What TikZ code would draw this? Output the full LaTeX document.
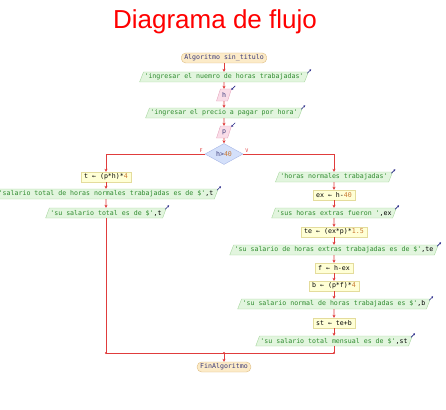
\documentclass[tikz,border=0pt]{standalone}
\usepackage{fontspec}
\setmainfont{Liberation Sans}
\setmonofont{DejaVu Sans Mono}
\usepackage{xcolor}
\usetikzlibrary{arrows.meta, positioning, shapes.geometric, calc}
\definecolor{linea}{HTML}{E03C3C}
\definecolor{termfondo}{HTML}{FCEBC8}
\definecolor{termborde}{HTML}{DDBB80}
\definecolor{termtexto}{HTML}{3A3A7A}
\definecolor{salfondo}{HTML}{E2F5DE}
\definecolor{salborde}{HTML}{A6D69E}
\definecolor{cadena}{HTML}{2E8B2E}
\definecolor{asigfondo}{HTML}{FFFFD6}
\definecolor{asigborde}{HTML}{E4DC9C}
\definecolor{entfondo}{HTML}{FADDE8}
\definecolor{entborde}{HTML}{E6A6BE}
\definecolor{decfondo}{HTML}{D4E0FA}
\definecolor{decborde}{HTML}{A6B6E6}
\definecolor{numero}{HTML}{C87832}
\definecolor{icono}{HTML}{2A2A8A}
\newcommand{\flujofont}{\ttfamily\fontsize{6.6}{7.5}\selectfont}
\newcommand{\strg}[1]{\textcolor{cadena}{#1}}
\newcommand{\nmbr}[1]{\textcolor{numero}{#1}}
\tikzset{
  term/.style   ={rectangle, draw=termborde, fill=termfondo, rounded corners=4.5pt,
                  minimum height=10, inner xsep=3, inner ysep=1, text=termtexto,
                  font=\flujofont},
  salida/.style ={trapezium, trapezium left angle=65, trapezium right angle=115,
                  trapezium stretches=true, draw=salborde, fill=salfondo,
                  minimum height=10, inner xsep=1, inner ysep=1, font=\flujofont},
  entrada/.style={trapezium, trapezium left angle=65, trapezium right angle=115,
                  trapezium stretches=true, draw=entborde, fill=entfondo,
                  minimum height=12, minimum width=15, inner xsep=1, inner ysep=1,
                  text=termtexto, font=\flujofont},
  asig/.style   ={rectangle, draw=asigborde, fill=asigfondo, minimum height=10,
                  inner xsep=3, inner ysep=1, font=\flujofont},
  decision/.style={diamond, draw=decborde, fill=decfondo, minimum width=38,
                  minimum height=18, inner sep=0, text=termtexto, font=\flujofont},
  flujo/.style  ={-{Stealth[length=3pt, width=3pt]}, linea, line width=0.6pt},
  union/.style  ={linea, line width=0.6pt},
  etiq/.style   ={font=\ttfamily\fontsize{5}{6}\selectfont, text=linea, inner sep=1pt},
  icon/.style   ={-{Stealth[length=2pt, width=2.2pt]}, icono, line width=0.6pt}
}
\begin{document}
\begin{tikzpicture}[x=1pt, y=-1pt]
\useasboundingbox (0,0) rectangle (446,409);
% Title
\node[font=\fontsize{26}{30}\selectfont, text=red] (titulo) at (215,22) {Diagrama de flujo};

% Main column
\node[term]     (inicio) at (224,58)  {Algoritmo sin\_titulo};
\node[salida]   (o1)     at (224,77)  {\strg{'ingresar el nuemro de horas trabajadas'}};
\node[entrada]  (h)      at (224,95)  {h};
\node[salida]   (o2)     at (224,113) {\strg{'ingresar el precio a pagar por hora'}};
\node[entrada]  (p)      at (224,132) {p};
\node[decision] (cond)   at (224,154) {h>\nmbr{40}};

% Left branch (F)
\node[asig]   (t1) at (106,177) {t ← (p*h)*\nmbr{4}};
\node[salida] (o3) at (106,194) {\strg{'salario total de horas normales trabajadas es de \$'},t};
\node[salida] (o4) at (106,213) {\strg{'su salario total es de \$'},t};

% Right branch (V)
\node[salida] (o5)  at (334,177) {\strg{'horas normales trabajadas'}};
\node[asig]   (ex)  at (334,195) {ex ← h-\nmbr{40}};
\node[salida] (o6)  at (334,213) {\strg{'sus horas extras fueron '},ex};
\node[asig]   (te)  at (334,232) {te ← (ex*p)*\nmbr{1.5}};
\node[salida] (o7)  at (334,250) {\strg{'su salario de horas extras trabajadas es de \$'},te};
\node[asig]   (f)   at (334,268) {f ← h-ex};
\node[asig]   (b)   at (334,286) {b ← (p*f)*\nmbr{4}};
\node[salida] (o8)  at (334,304) {\strg{'su salario normal de horas trabajadas es \$'},b};
\node[asig]   (st)  at (334,323) {st ← te+b};
\node[salida] (o9)  at (334,341) {\strg{'su salario total mensual es de \$'},st};

% Join and end
\coordinate (jl) at (106,353);
\coordinate (jr) at (334,353);
\coordinate (jm) at (224,353);
\node[term] (fin) at (224,367) {FinAlgoritmo};

% Connectors
\draw[flujo] (inicio) -- (o1);
\draw[flujo] (o1) -- (h);
\draw[flujo] (h) -- (o2);
\draw[flujo] (o2) -- (p);
\draw[flujo] (p) -- (cond);
\draw[flujo] (cond.west) -| (t1.north);
\draw[flujo] (cond.east) -| (o5.north);
\node[etiq, above left=0pt and 1pt of cond.west]  (lf) {F};
\node[etiq, above right=0pt and 1pt of cond.east] (lv) {V};
\draw[flujo] (t1) -- (o3);
\draw[flujo] (o3) -- (o4);
\draw[union] (o4) -- (jl) -- (jr);
\foreach \a/\b in {o5/ex, ex/o6, o6/te, te/o7, o7/f, f/b, b/o8, o8/st, st/o9}{
  \draw[flujo] (\a) -- (\b);
}
\draw[union] (o9) -- (jr);
\draw[flujo] (jm) -- (fin);
\foreach \c in {jl, jr, jm}{
  \fill[linea] (\c) circle (1.1);
}

% Output / input marks
\foreach \n in {o1, o2, o3, o4, o5, o6, o7, o8, o9}{
  \draw[icon] ($(\n.top right corner)+(-1.5,1.5)$) -- ++(4,-4);
}
\foreach \n in {h, p}{
  \draw[icon] ($(\n.top right corner)+(3.5,-3)$) -- ++(-4,4);
}
\end{tikzpicture}
\end{document}
